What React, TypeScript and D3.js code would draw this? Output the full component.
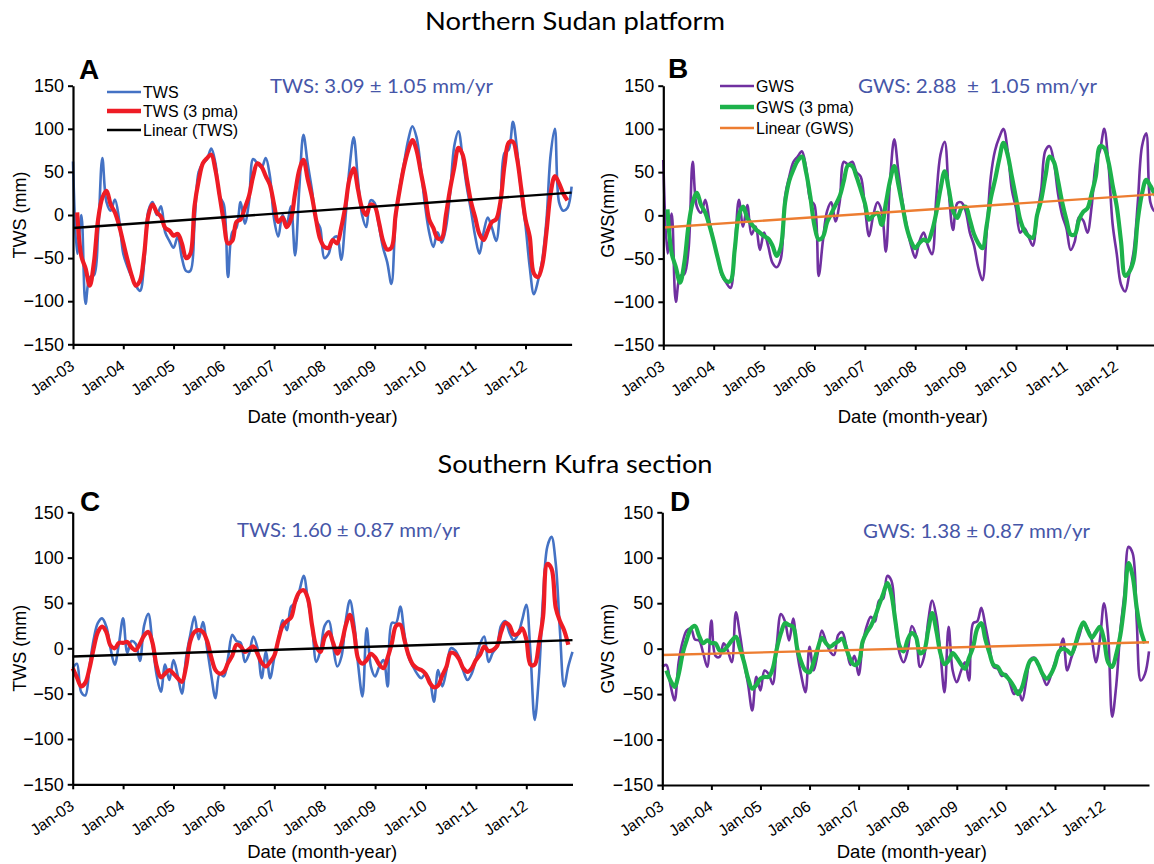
import React, { useEffect, useRef } from 'react';
import * as d3 from 'd3';

// monthly values, index = months since Jan-03 (0 .. 119 = Dec-12)
const yearTicks = ['Jan-03', 'Jan-04', 'Jan-05', 'Jan-06', 'Jan-07', 'Jan-08', 'Jan-09', 'Jan-10', 'Jan-11', 'Jan-12'];
const yTicks = [-150, -100, -50, 0, 50, 100, 150];

// Northern Sudan platform
const sudanTws = [
  62, -45, 0, -103, -72, -70, -20, 66, 15, 5,
  18, -5, -45, -60, -72, -82, -88, -55, 5, 15,
  0, 10, -20, -30, -38, -25, -50, -65, -65, -10,
  50, 60, 65, 77, 60, 22, 12, -72, -20, -15,
  15, -10, 15, 65, 60, 55, 66, 45, -5, -25,
  0, -10, 10, -47, 30, 93, 60, 30, -5, -15,
  -50, -45, -28, -25, -52, -5, 55, 90, 41, 0,
  -14, 17, 14, -12, -38, -55, -80, -5, 33, 60,
  87, 103, 90, 55, 12, -20, -37, -20, -32, -15,
  25, 80, 97, 66, 32, 5, -25, -45, -20, -3,
  -15, -30, 10, 72, 76, 108, 75, 25, -12, -60,
  -92, -76, -52, -6, 70, 100, 15, 5, 8, 33,
];
const sudanTwsPma = [
  null, 3, -48, -62, -82, -55, -5, 20, 28, 12,
  3, -12, -32, -52, -70, -82, -76, -45, 0, 12,
  3, -2, -15, -18, -24, -22, -33, -50, -45, 10,
  40, 60, 66, 70, 52, 22, -8, -33, -30, -8,
  -5, 8, 22, 45, 60, 56, 45, 35, 12, -8,
  -3, -14, -5, 25, 52, 64, 42, 22, -5, -28,
  -37, -38, -29, -33, -15, 10, 42, 54, 30, 8,
  0, 12, 10, -8, -30, -40, -38, 0, 30, 56,
  75, 87, 75, 50, 25, -5, -15, -27, -27, 0,
  30, 55, 78, 70, 42, 15, -3, -22, -29, -18,
  -8, -5, 15, 58, 84, 85, 65, 30, -5, -25,
  -68, -72, -58, -20, 25, 45, 37, 25, 17, null,
];
const sudanTwsTrend = [-15, 26];

const sudanGws = [
  64, -44, 2, -100, -70, -68, -40, 62, 10, 3,
  18, -7, -30, -50, -70, -78, -84, -40, 18, -13,
  12, -22, -13, -40, -20, -36, -55, -60, -50, 22,
  45, 62, 68, 74, 55, 18, 12, -70, -30, 5,
  15, -7, 15, 62, 59, 62, 50, 45, 10, -24,
  0, 15, 5, -42, 40, 88, 50, 15, -13, -35,
  -49, -30, -20, -35, -45, 20, 70, 85, 25, -17,
  14, 15, 5, -20, -35, -60, -75, -20, 45, 75,
  90, 100, 75, 30, 8, -20, -15, -25, -35, 0,
  30, 75, 80, 62, 25, 0, -15, -40, -30, -2,
  -6, -20, 10, 60, 75, 100, 60, -10, -45, -80,
  -88, -67, -42, 15, 80, 95, 15, 5, 10, 30,
];
const sudanGwsPma = [
  null, 7, -44, -60, -78, -55, -12, 15, 26, 12,
  3, -12, -30, -50, -68, -76, -76, -40, 0, 10,
  -3, -10, -16, -20, -24, -27, -35, -47, -36, 15,
  40, 53, 63, 68, 50, 22, -12, -28, -25, -8,
  2, 12, 22, 40, 58, 57, 45, 30, 14, -5,
  0, 3, -11, 14, 40, 57, 35, 10, -15, -30,
  -38, -32, -28, -30, -18, 3, 30, 51, 30, 5,
  -3, 8, 10, -5, -22, -32, -38, -12, 20, 41,
  65, 84, 70, 45, 20, -5, -18, -24, -26, 0,
  18, 45, 68, 62, 40, 15, -5, -22, -22, -5,
  4, 8, 25, 45, 80, 78, 62, 35, 10, -30,
  -70, -65, -52, -5, 25, 41, 34, 25, 18, null,
];
const sudanGwsTrend = [-14, 25];

// Southern Kufra section
const kufraTws = [
  -22, -17, -48, -52, -20, 10, 28, 33, 24, 0,
  -18, 5, 33, -5, 8, 5, -14, 25, 38, 5,
  -30, -48, -18, -35, -13, -30, -50, -10, 15, 35,
  10, 29, 0, -30, -55, -28, -31, -10, 15, 8,
  6, -15, -6, 13, 0, -33, -4, -33, -10, 10,
  31, 20, 46, 50, 64, 80, 53, 25, -15, -2,
  25, 30, 2, -20, -9, 30, 53, 28, -20, -53,
  22, -20, -31, -20, -13, -42, 28, 28, 46, 15,
  -10, -20, -28, -33, -28, -35, -59, -24, -42, -24,
  0, -2, -10, -25, -35, -28, -12, 5, 13, -15,
  -5, 2, 25, 30, 17, 9, 15, 31, 48, -6,
  -79, -31, 57, 112, 123, 94, 20, -42, -20, -4,
];
const kufraTwsPma = [
  -22, -32, -42, -38, -22, 0, 18, 24, 18, 3,
  0, 6, 6, 7, 1, -2, 5, 14, 18, 6,
  -20, -32, -28, -24, -28, -33, -37, -20, 8, 18,
  20, 18, 8, -10, -24, -28, -26, -16, -8, 4,
  2, -4, -1, 2, -6, -16, -20, -15, -8, 10,
  25, 30, 34, 52, 62, 64, 55, 25, 2, -4,
  12, 18, 6, -6, 5, 25, 37, 18, -12, -17,
  -13, -6, -10, -18, -22, -10, 6, 25, 26, 9,
  -8, -18, -22, -24, -28, -38, -43, -41, -30, -20,
  -5, -6, -12, -22, -26, -22, -13, -7, 2, -3,
  -2, 2, 18, 28, 25, 15, 16, 22, 10, -18,
  -18, 5, 35, 93, 88, 45, 30, 20, 4, null,
];
const kufraTwsTrend = [-9, 9];

const kufraGws = [
  -20, -18, -40, -57, -15, 8, 20, 22, 10, 9,
  -5, -20, 31, -8, -9, 6, -2, -15, 40, 15,
  -15, -40, -68, -31, -46, -24, -28, -39, 5, 38,
  30, 9, 33, -5, -30, -48, 2, -24, -5, 20,
  8, -3, -7, 15, 18, 2, -18, -8, -29, 5,
  25, 35, 30, 53, 55, 80, 75, 30, -5, -15,
  -2, 25, 15, -20, -9, 30, 53, 35, -5, -48,
  24, -24, -37, -25, -15, -35, 28, 30, 45, 25,
  2, -20, -22, -30, -28, -38, -50, -46, -57, -35,
  -12, -10, -18, -30, -40, -30, -15, -5, 11, -24,
  -10, 2, 15, 28, 22, 10, -15, 10, 50, 15,
  -75, -40, 20, 61, 112, 105, 30, -35, -28, -3,
];
const kufraGwsPma = [
  null, -24, -35, -42, -28, -5, 10, 22, 25, 14,
  6, 9, 6, 6, -2, -2, 3, 9, 13, 0,
  -15, -33, -44, -40, -33, -31, -31, -22, 0, 17,
  28, 26, 24, 0, -15, -24, -26, -15, 0, 12,
  6, 2, 5, 8, 11, 0, -12, -18, -15, 8,
  18, 25, 35, 48, 60, 72, 60, 30, 3, -3,
  10, 17, 13, -5, -2, 20, 39, 20, -5, -17,
  -13, -5, -10, -17, -22, -10, 2, 22, 28, 10,
  -5, -18, -20, -27, -30, -35, -42, -50, -42, -25,
  -13, -11, -18, -28, -33, -28, -18, -3, 0, -2,
  -6, 5, 20, 29, 20, 12, 18, 24, 10, -15,
  -20, -6, 15, 50, 94, 80, 45, 20, 6, null,
];
const kufraGwsTrend = [-7, 7];

const ARIAL = '"Liberation Sans", Arial, Helvetica, sans-serif';
const CALIBRI = 'Lato, "Open Sans", sans-serif';
const NOTE_COLOR = '#4656A8';

const panels = [
  {
    letter: 'A', lx: 79, ly: 79,
    raw: sudanTws, pma: sudanTwsPma, trend: sudanTwsTrend,
    rawColor: '#4472C4', pmaColor: '#EE1C25', trendColor: '#000000',
    yTitle: 'TWS (mm)', note: 'TWS: 3.09 ± 1.05 mm/yr', noteX: 270, noteY: 93, noteW: 223,
    legend: ['TWS', 'TWS (3 pma)', 'Linear (TWS)'], legX: 107, legY: [92, 111, 130],
    x0: 73, x1: 571.6, y0: 85.7, y1: 344.3, titleY: 423, yTitleX: 20,
  },
  {
    letter: 'B', lx: 668, ly: 78,
    raw: sudanGws, pma: sudanGwsPma, trend: sudanGwsTrend,
    rawColor: '#7030A0', pmaColor: '#1DB24B', trendColor: '#ED7D31',
    yTitle: 'GWS(mm)', note: 'GWS: 2.88  ±  1.05 mm/yr', noteX: 858, noteY: 93, noteW: 239,
    legend: ['GWS', 'GWS (3 pma)', 'Linear (GWS)'], legX: 720, legY: [86, 107, 128],
    x0: 663.3, x1: 1163, y0: 85.7, y1: 345, titleY: 423, yTitleX: 608,
  },
  {
    letter: 'C', lx: 80, ly: 511,
    raw: kufraTws, pma: kufraTwsPma, trend: kufraTwsTrend,
    rawColor: '#4472C4', pmaColor: '#EE1C25', trendColor: '#000000',
    yTitle: 'TWS (mm)', note: 'TWS: 1.60 ± 0.87 mm/yr', noteX: 237, noteY: 537, noteW: 223,
    legend: null, legX: 0, legY: [],
    x0: 72.7, x1: 572.5, y0: 512.3, y1: 784.3, titleY: 858, yTitleX: 20,
  },
  {
    letter: 'D', lx: 670, ly: 511,
    raw: kufraGws, pma: kufraGwsPma, trend: kufraGwsTrend,
    rawColor: '#7030A0', pmaColor: '#1DB24B', trendColor: '#ED7D31',
    yTitle: 'GWS (mm)', note: 'GWS: 1.38 ± 0.87 mm/yr', noteX: 863, noteY: 538, noteW: 227,
    legend: null, legX: 0, legY: [],
    x0: 662.3, x1: 1149, y0: 512.3, y1: 785, titleY: 858, yTitleX: 608,
  },
];

function Panel({ p }: { p: any }) {
  const xRef = useRef<SVGGElement>(null);
  const yRef = useRef<SVGGElement>(null);
  const x = d3.scaleLinear().domain([0, 119]).range([p.x0, p.x1]);
  const y = d3.scaleLinear().domain([-150, 150]).range([p.y1, p.y0]);

  useEffect(() => {
    const gx = d3.select(xRef.current as SVGGElement);
    gx.call(
      d3.axisBottom(x)
        .tickValues(d3.range(0, 120, 12))
        .tickFormat((_d, i) => yearTicks[i])
        .tickSize(5)
        .tickSizeOuter(0)
    );
    gx.select('.domain').attr('stroke-width', 2.2);
    gx.selectAll('.tick line').attr('stroke-width', 2);
    gx.selectAll('.tick text')
      .attr('font-family', ARIAL)
      .attr('font-size', 16)
      .attr('fill', '#000')
      .attr('text-anchor', 'end')
      .attr('x', 0)
      .attr('y', 0)
      .attr('dy', 0)
      .attr('transform', 'translate(2,24) rotate(-35)');

    const gy = d3.select(yRef.current as SVGGElement);
    gy.call(d3.axisLeft(y).tickValues(yTicks).tickFormat(d3.format('d')).tickSize(5).tickSizeOuter(0));
    gy.select('.domain').attr('stroke-width', 2.2);
    gy.selectAll('.tick line').attr('stroke-width', 2);
    gy.selectAll('.tick text')
      .attr('font-family', ARIAL)
      .attr('font-size', 18)
      .attr('fill', '#000')
      .attr('x', -9);
  }, []);

  const line = d3
    .line<number | null>()
    .defined((d) => d != null)
    .x((_d, i) => x(i))
    .y((d) => y(d as number))
    .curve(d3.curveCatmullRom.alpha(0.5));

  const trendLine = d3
    .line<number>()
    .x((_d, i) => x(i === 0 ? 0 : 119))
    .y((d) => y(d));

  const legColors = [p.rawColor, p.pmaColor, p.trendColor];
  const legWidths = [2.5, 4.5, 2.5];
  const plotMid = p.x0 + (572 - 73) / 2;

  return (
    <g>
      <path d={line(p.raw) || ''} fill="none" stroke={p.rawColor} strokeWidth={2.6} strokeLinejoin="round" />
      <path d={line(p.pma) || ''} fill="none" stroke={p.pmaColor} strokeWidth={4.2} strokeLinejoin="round" />
      <path d={trendLine(p.trend) || ''} fill="none" stroke={p.trendColor} strokeWidth={2.4} />
      <g ref={yRef} transform={`translate(${p.x0},0)`} />
      <g ref={xRef} transform={`translate(0,${p.y1})`} />
      <text x={p.lx} y={p.ly} fontFamily={ARIAL} fontWeight="bold" fontSize={28}>
        {p.letter}
      </text>
      <text
        transform={`translate(${p.yTitleX},${(p.y0 + p.y1) / 2}) rotate(-90)`}
        textAnchor="middle"
        dy="0.35em"
        fontFamily={ARIAL}
        fontSize={18}
      >
        {p.yTitle}
      </text>
      <text x={plotMid} y={p.titleY} textAnchor="middle" fontFamily={ARIAL} fontSize={18.5}>
        Date (month-year)
      </text>
      <text
        x={p.noteX}
        y={p.noteY}
        fontFamily={CALIBRI}
        fontSize={20}
        fill={NOTE_COLOR}
        textLength={p.noteW}
        lengthAdjust="spacingAndGlyphs"
        style={{ whiteSpace: 'pre' }}
      >
        {p.note}
      </text>
      {p.legend &&
        p.legend.map((name: string, i: number) => (
          <g key={name}>
            <line x1={p.legX} x2={p.legX + 34} y1={p.legY[i]} y2={p.legY[i]} stroke={legColors[i]} strokeWidth={legWidths[i]} />
            <text x={p.legX + 36} y={p.legY[i] + 5.5} fontFamily={ARIAL} fontSize={16}>
              {name}
            </text>
          </g>
        ))}
    </g>
  );
}

export default function App() {
  return (
    <svg
      width={1154}
      height={864}
      style={{ position: 'absolute', left: 0, top: 0, display: 'block', background: '#fff' }}
    >
      <rect width={1154} height={864} fill="#fff" />
      <text x={575} y={30} textAnchor="middle" fontFamily={CALIBRI} fontSize={25} textLength={300} lengthAdjust="spacingAndGlyphs">
        Northern Sudan platform
      </text>
      <text x={575} y={473} textAnchor="middle" fontFamily={CALIBRI} fontSize={25} textLength={275} lengthAdjust="spacingAndGlyphs">
        Southern Kufra section
      </text>
      {panels.map((p) => (
        <Panel key={p.letter} p={p} />
      ))}
    </svg>
  );
}
